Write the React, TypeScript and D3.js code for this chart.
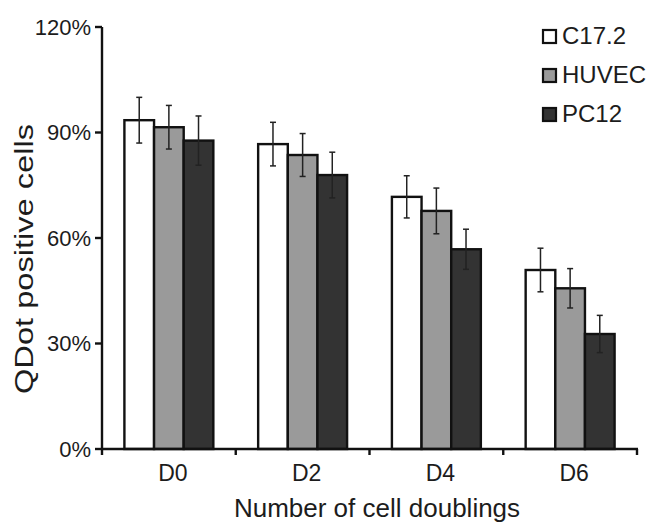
import * as d3 from "d3";
import { useEffect, useRef } from "react";

// chart data
const categories = ["D0", "D2", "D4", "D6"];
const seriesNames = ["C17.2", "HUVEC", "PC12"];
const c172Values = [93.5, 86.7, 71.7, 50.9];
const c172Errors = [6.5, 6.2, 6.0, 6.2];
const huvecValues = [91.5, 83.6, 67.7, 45.7];
const huvecErrors = [6.2, 6.1, 6.5, 5.6];
const pc12Values = [87.7, 77.9, 56.8, 32.7];
const pc12Errors = [7.0, 6.5, 5.7, 5.3];
const yTicks = [0, 30, 60, 90, 120];

const fills = ["#ffffff", "#9a9a9a", "#333333"];
const textColor = "#1c1c1c";
const font = "'Liberation Sans', Arial, sans-serif";

const App = () => {
  const svgRef = useRef<SVGSVGElement>(null);
  const width = 651;
  const height = 524;

  useEffect(() => {
    const margin = { top: 27, left: 102, right: 14, bottom: 75 };
    const svg = d3.select(svgRef.current).attr("width", width).attr("height", height);
    svg.selectAll("*").remove();

    const values = [c172Values, huvecValues, pc12Values];
    const errors = [c172Errors, huvecErrors, pc12Errors];
    const rows = categories.map((cat, i) => ({
      cat,
      bars: seriesNames.map((s, j) => ({ key: s, idx: j, v: values[j][i], e: errors[j][i] })),
    }));

    const x0 = d3
      .scaleBand()
      .domain(categories)
      .range([margin.left, width - margin.right])
      .paddingInner(0.335)
      .paddingOuter(0.1675);
    const x1 = d3.scaleBand().domain(seriesNames).range([0, x0.bandwidth()]);
    const y = d3
      .scaleLinear()
      .domain([0, 120])
      .range([height - margin.bottom, margin.top]);

    const step = x0.step();
    const gap = (step * 0.335) / 2;

    // bars
    const groups = svg
      .selectAll("g.grp")
      .data(rows)
      .join("g")
      .attr("class", "grp")
      .attr("transform", (d) => `translate(${x0(d.cat)},0)`);

    groups
      .selectAll("rect")
      .data((d) => d.bars)
      .join("rect")
      .attr("x", (d) => x1(d.key)!)
      .attr("y", (d) => y(d.v))
      .attr("width", x1.bandwidth())
      .attr("height", (d) => y(0) - y(d.v))
      .attr("fill", (d) => fills[d.idx])
      .attr("stroke", "#111")
      .attr("stroke-width", 2.4);

    // error bars
    const err = groups
      .selectAll("g.err")
      .data((d) => d.bars)
      .join("g")
      .attr("class", "err")
      .attr("transform", (d) => `translate(${x1(d.key)! + x1.bandwidth() / 2},0)`)
      .attr("stroke", "#222")
      .attr("stroke-width", 1.5);
    err.append("line").attr("y1", (d) => y(d.v + d.e)).attr("y2", (d) => y(d.v - d.e));
    err.append("line").attr("x1", -3).attr("x2", 3).attr("y1", (d) => y(d.v + d.e)).attr("y2", (d) => y(d.v + d.e));
    err.append("line").attr("x1", -3).attr("x2", 3).attr("y1", (d) => y(d.v - d.e)).attr("y2", (d) => y(d.v - d.e));

    // axes
    const axes = svg.append("g").attr("stroke", "#111").attr("stroke-width", 2.4);
    axes
      .append("line")
      .attr("x1", margin.left)
      .attr("x2", margin.left)
      .attr("y1", y(120))
      .attr("y2", y(0) + 6);
    axes
      .append("line")
      .attr("x1", margin.left - 1)
      .attr("x2", width - margin.right + 1)
      .attr("y1", y(0))
      .attr("y2", y(0));
    axes
      .selectAll("line.yt")
      .data(yTicks)
      .join("line")
      .attr("class", "yt")
      .attr("x1", margin.left - 7)
      .attr("x2", margin.left)
      .attr("y1", (d) => y(d))
      .attr("y2", (d) => y(d));
    const bounds = categories.map((c) => x0(c)! - gap).concat([x0(categories[3])! + x0.bandwidth() + gap]);
    axes
      .selectAll("line.xt")
      .data(bounds.slice(1))
      .join("line")
      .attr("class", "xt")
      .attr("x1", (d) => d)
      .attr("x2", (d) => d)
      .attr("y1", y(0))
      .attr("y2", y(0) + 6);

    svg
      .selectAll("text.yl")
      .data(yTicks)
      .join("text")
      .attr("class", "yl")
      .attr("x", margin.left - 11)
      .attr("y", (d) => y(d))
      .attr("dy", "0.35em")
      .attr("text-anchor", "end")
      .attr("font-family", font)
      .attr("font-size", 22)
      .attr("fill", textColor)
      .text((d) => `${d}%`);

    svg
      .selectAll("text.xl")
      .data(categories)
      .join("text")
      .attr("class", "xl")
      .attr("x", (d) => x0(d)! + x0.bandwidth() / 2 + 4)
      .attr("y", y(0) + 32)
      .attr("text-anchor", "middle")
      .attr("font-family", font)
      .attr("font-size", 23)
      .attr("fill", textColor)
      .text((d) => d);

    svg
      .append("text")
      .attr("x", 377)
      .attr("y", 517)
      .attr("text-anchor", "middle")
      .attr("font-family", font)
      .attr("font-size", 26)
      .attr("fill", textColor)
      .text("Number of cell doublings");

    svg
      .append("text")
      .attr("transform", "translate(33,259) rotate(-90)")
      .attr("text-anchor", "middle")
      .attr("font-family", font)
      .attr("font-size", 25)
      .attr("textLength", 270)
      .attr("lengthAdjust", "spacingAndGlyphs")
      .attr("fill", textColor)
      .text("QDot positive cells");

    // legend
    const legend = svg
      .selectAll("g.leg")
      .data(seriesNames)
      .join("g")
      .attr("class", "leg")
      .attr("transform", (d, i) => `translate(543,${30 + i * 39})`);
    legend
      .append("rect")
      .attr("width", 13)
      .attr("height", 13)
      .attr("fill", (d, i) => fills[i])
      .attr("stroke", "#111")
      .attr("stroke-width", 2.2);
    legend
      .append("text")
      .attr("x", 19)
      .attr("y", 14)
      .attr("font-family", font)
      .attr("font-size", 24)
      .attr("fill", textColor)
      .text((d) => d);
  }, []);

  return <svg ref={svgRef} style={{ position: "absolute", left: 0, top: 0, background: "#fff" }}></svg>;
};

export default App;
